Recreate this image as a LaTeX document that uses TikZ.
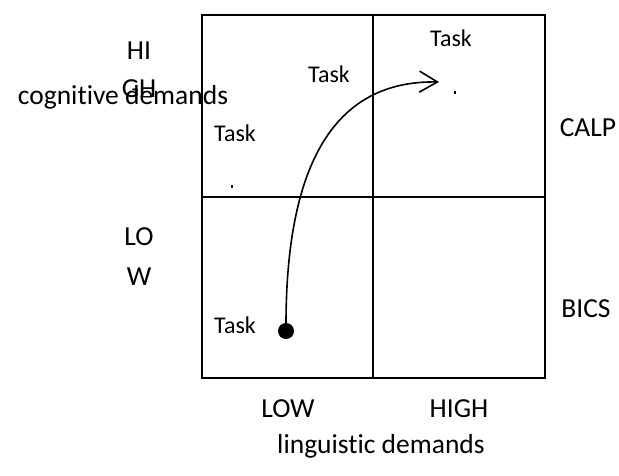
\documentclass[tikz,border=0pt]{standalone}
\usepackage{fontspec}
\setmainfont{Carlito}[Ligatures=NoCommon]
\usetikzlibrary{arrows.meta}
\tikzset{
  grid/.style={line width=2.5pt, line cap=rect},
  lbl/.style={font=\fontsize{27.5}{31}\selectfont, inner sep=0pt, anchor=base},
  tasklbl/.style={font=\fontsize{24}{28}\selectfont, inner sep=0pt, anchor=base},
  speck/.style={fill=black, minimum width=2pt, minimum height=3pt, inner sep=0pt, draw=none},
}
\begin{document}
\begin{tikzpicture}[x=1pt,y=-1pt]
\useasboundingbox (0,0) rectangle (619,476);
% grid
\coordinate (tl) at (202,15);
\coordinate (br) at (545,378);
\draw[grid] (tl) rectangle (br);
\draw[grid] (373,15) -- (373,378);
\draw[grid] (202,197) -- (545,197);
% axis labels
\node[lbl] (hi) at (139,60) {HI};
\node[lbl] (gh) at (139,98) {GH};
\node[lbl] (cog) at (123,105) {cognitive demands};
\node[lbl] (lo) at (139,245) {LO};
\node[lbl] (w) at (139,285) {W};
\node[lbl] (calp) at (588,137) {CALP};
\node[lbl] (bics) at (586,317) {BICS};
\node[lbl] (low) at (288,417) {LOW};
\node[lbl] (high) at (459,417) {HIGH};
\node[lbl] (ling) at (381,453) {linguistic demands};
% tasks
\node[tasklbl] (t1) at (451,47) {Task};
\node[tasklbl] (t2) at (329,83) {Task};
\node[tasklbl] (t3) at (235,142) {Task};
\node[tasklbl] (t4) at (235,333) {Task};
% specks
\node[speck] (s1) at (232,187) {};
\node[speck] (s2) at (455,93) {};
% start dot and curve
\node[circle, fill=black, minimum size=16pt, inner sep=0pt] (start) at (286,331) {};
\coordinate (tip) at (439,82);
\draw[line width=1.6pt, -{Straight Barb[length=18pt, width=21pt, line width=1.6pt]}]
  (start.center) .. controls (285,180) and (325,80) .. (tip);
\end{tikzpicture}
\end{document}
